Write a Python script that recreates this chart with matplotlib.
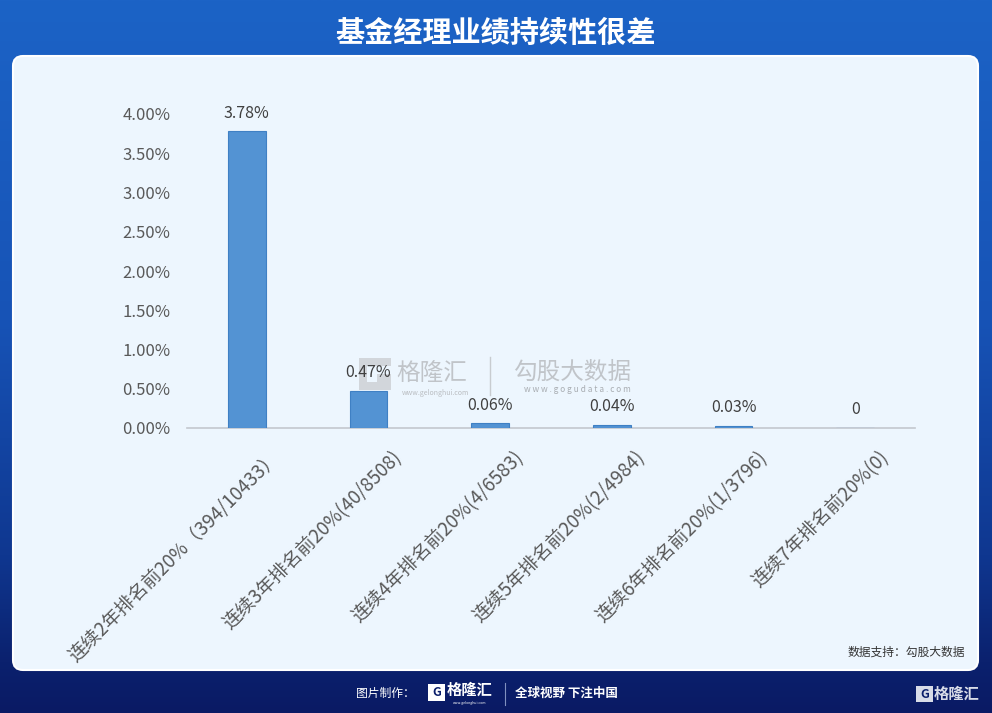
import numpy as np
import matplotlib.pyplot as plt
from matplotlib.patches import FancyBboxPatch, Rectangle
from matplotlib.colors import LinearSegmentedColormap

plt.rcParams['font.family'] = ['Noto Sans CJK SC', 'DejaVu Sans']

# data
categories = [
    "连续2年排名前20%（394/10433）",
    "连续3年排名前20%(40/8508)",
    "连续4年排名前20%(4/6583)",
    "连续5年排名前20%(2/4984)",
    "连续6年排名前20%(1/3796)",
    "连续7年排名前20%(0)",
]
values = [3.78, 0.47, 0.06, 0.04, 0.03, 0.0]
value_labels = ["3.78%", "0.47%", "0.06%", "0.04%", "0.03%", "0"]
y_ticks = [0.0, 0.5, 1.0, 1.5, 2.0, 2.5, 3.0, 3.5, 4.0]

W, H = 992, 713
fig = plt.figure(figsize=(W / 100, H / 100), dpi=100)

# background gradient
bg = fig.add_axes([0, 0, 1, 1], zorder=0)
bg.set_xlim(0, W)
bg.set_ylim(H, 0)
bg.axis("off")
cmap = LinearSegmentedColormap.from_list(
    "bgblue",
    [(0.0, "#1c63c6"), (0.45, "#1753b6"), (0.78, "#0f3790"), (0.93, "#0b216e"), (1.0, "#0a1a64")],
)
grad = np.linspace(0, 1, 256).reshape(-1, 1)
bg.imshow(grad, cmap=cmap, extent=[0, W, H, 0], aspect="auto")

# panel
panel = FancyBboxPatch((13, 56), 965, 614, boxstyle="round,pad=0,rounding_size=10",
                       facecolor="#edf6fe", edgecolor="#ffffff", linewidth=1.5)
bg.add_patch(panel)

# title
bg.text(W / 2, 33, "基金经理业绩持续性很差", color="white", fontsize=21,
        fontweight="bold", ha="center", va="center")

# watermark (logo drawn as shapes)
bg.add_patch(Rectangle((359, 358), 32, 32, facecolor="#c9ccd0", edgecolor="none", alpha=0.75))
bg.add_patch(Rectangle((367, 366), 24, 8, facecolor="#edf6fe", edgecolor="none"))
bg.add_patch(Rectangle((367, 374), 10, 8, facecolor="#edf6fe", edgecolor="none"))
bg.text(432, 373, "格隆汇", color="#b9bcc0", fontsize=17, ha="center", va="center", alpha=0.85)
bg.text(436, 393, "www.gelonghui.com", color="#b9bcc0", fontsize=5, ha="center", va="center")
bg.plot([490, 490], [357, 395], color="#c8ccd0", lw=1)
bg.text(572, 372, "勾股大数据", color="#b9bcc0", fontsize=17, ha="center", va="center", alpha=0.85)
bg.text(577, 390, "w w w . g o g u d a t a . c o m", color="#a9adb2", fontsize=6,
        ha="center", va="center")

# source
bg.text(965, 652, "数据支持：勾股大数据", color="#333333", fontsize=8.5, ha="right", va="center")

# footer
bg.text(415, 693, "图片制作：", color="white", fontsize=8.5, ha="right", va="center")
bg.add_patch(Rectangle((428, 684), 17, 17, facecolor="white", edgecolor="none"))
bg.text(436.5, 692.5, "G", color="#0b1f6b", fontsize=9, fontweight="bold", ha="center", va="center")
bg.text(470, 690, "格隆汇", color="white", fontsize=11, fontweight="bold", ha="center", va="center")
bg.text(470, 703, "www.gelonghui.com", color="white", fontsize=2.5, ha="center", va="center")
bg.plot([505, 505], [683, 705], color="#8090c0", lw=0.8)
bg.text(515, 693, "全球视野 下注中国", color="white", fontsize=9, fontweight="bold",
        ha="left", va="center")
bg.add_patch(Rectangle((916, 686), 17, 16, facecolor="#d8dce8", edgecolor="none"))
bg.text(924.5, 694, "G", color="#0b1f6b", fontsize=9, fontweight="bold", ha="center", va="center")
bg.text(957, 694, "格隆汇", color="#d8dce8", fontsize=11, fontweight="bold", ha="center", va="center")

# chart
ax = fig.add_axes([187 / W, 1 - 428 / H, (915 - 187) / W, (428 - 114) / H], zorder=2)
ax.patch.set_alpha(0)
x = np.arange(len(categories))
ax.bar(x, values, width=0.31, color="#5393d3", edgecolor="#3f80c4", linewidth=0.8, zorder=3)
ax.set_xlim(-0.49, len(categories) - 0.51)
ax.set_ylim(0, 4.0)
ax.set_yticks(y_ticks)
ax.set_yticklabels([f"{t:.2f}%" for t in y_ticks], color="#595959", fontsize=12)
ax.tick_params(axis="y", length=0, pad=12)
ax.tick_params(axis="x", length=0)
ax.set_xticks([])
for s in ["top", "right", "left"]:
    ax.spines[s].set_visible(False)
ax.spines["bottom"].set_color("#c3c8ce")
ax.spines["bottom"].set_linewidth(1.2)

for i, (v, lab) in enumerate(zip(values, value_labels)):
    ax.annotate(lab, xy=(i, v), xytext=(0, 7), textcoords="offset points",
                ha="center", va="bottom", fontsize=11.5, color="#404040", annotation_clip=False)

for i, lab in enumerate(categories):
    ax.annotate(lab, xy=(i, 0), xycoords=("data", "axes fraction"), xytext=(22, -19),
                textcoords="offset points", rotation=45, rotation_mode="anchor",
                ha="right", va="center", fontsize=13.5, color="#595959", annotation_clip=False)

fig.savefig("out.png", dpi=100)
